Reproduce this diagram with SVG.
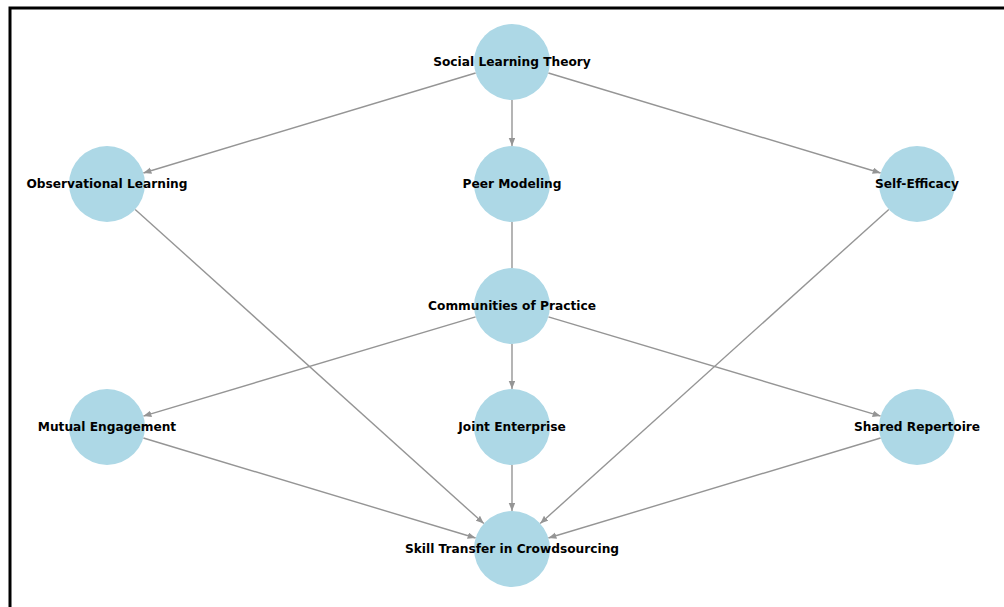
<svg xmlns="http://www.w3.org/2000/svg" width="1004" height="607" viewBox="0 0 1004 607">
<style>
.node circle{fill:#add8e6;stroke:none}
.node text{font-family:"DejaVu Sans",sans-serif;font-weight:bold;font-size:12.2px;fill:#000;text-anchor:middle;dominant-baseline:central}
.edge{stroke:#959595;stroke-width:1.4;fill:none}
.arr{marker-end:url(#ah)}
</style>
<defs>
<marker id="ah" markerUnits="userSpaceOnUse" markerWidth="9" markerHeight="7" refX="8" refY="3.25" orient="auto">
<path d="M0,0 L8,3.25 L0,6.5 z" fill="#959595"/>
</marker>
</defs>
<rect width="1004" height="607" fill="#fff"/>
<path d="M10,620 V8 H1010" fill="none" stroke="#000" stroke-width="3"/>
<g id="connectors">
<line class="edge arr" x1="475.6" y1="73" x2="143.4" y2="173"/>
<line class="edge arr" x1="512" y1="100" x2="512" y2="146"/>
<line class="edge arr" x1="548.4" y1="73" x2="880.6" y2="173"/>
<line class="edge" x1="512" y1="222" x2="512" y2="268"/>
<line class="edge arr" x1="135.2" y1="209.4" x2="483.8" y2="523.6"/>
<line class="edge arr" x1="888.8" y1="209.4" x2="540.2" y2="523.6"/>
<line class="edge arr" x1="475.6" y1="316.9" x2="143.4" y2="416.1"/>
<line class="edge arr" x1="512" y1="344" x2="512" y2="389"/>
<line class="edge arr" x1="548.4" y1="316.9" x2="880.6" y2="416.1"/>
<line class="edge arr" x1="143.4" y1="438" x2="475.6" y2="538"/>
<line class="edge arr" x1="512" y1="465" x2="512" y2="511"/>
<line class="edge arr" x1="880.6" y1="438" x2="548.4" y2="538"/>
</g>
<g id="n-slt" class="node"><circle cx="512" cy="62" r="38"/><text x="512" y="62">Social Learning Theory</text></g>
<g id="n-ol" class="node"><circle cx="107" cy="184" r="38"/><text x="107" y="184">Observational Learning</text></g>
<g id="n-pm" class="node"><circle cx="512" cy="184" r="38"/><text x="512" y="184">Peer Modeling</text></g>
<g id="n-se" class="node"><circle cx="917" cy="184" r="38"/><text x="917" y="184">Self-Efficacy</text></g>
<g id="n-cop" class="node"><circle cx="512" cy="306" r="38"/><text x="512" y="306">Communities of Practice</text></g>
<g id="n-me" class="node"><circle cx="107" cy="427" r="38"/><text x="107" y="427">Mutual Engagement</text></g>
<g id="n-je" class="node"><circle cx="512" cy="427" r="38"/><text x="512" y="427">Joint Enterprise</text></g>
<g id="n-sr" class="node"><circle cx="917" cy="427" r="38"/><text x="917" y="427">Shared Repertoire</text></g>
<g id="n-st" class="node"><circle cx="512" cy="549" r="38"/><text x="512" y="549">Skill Transfer in Crowdsourcing</text></g>
</svg>
